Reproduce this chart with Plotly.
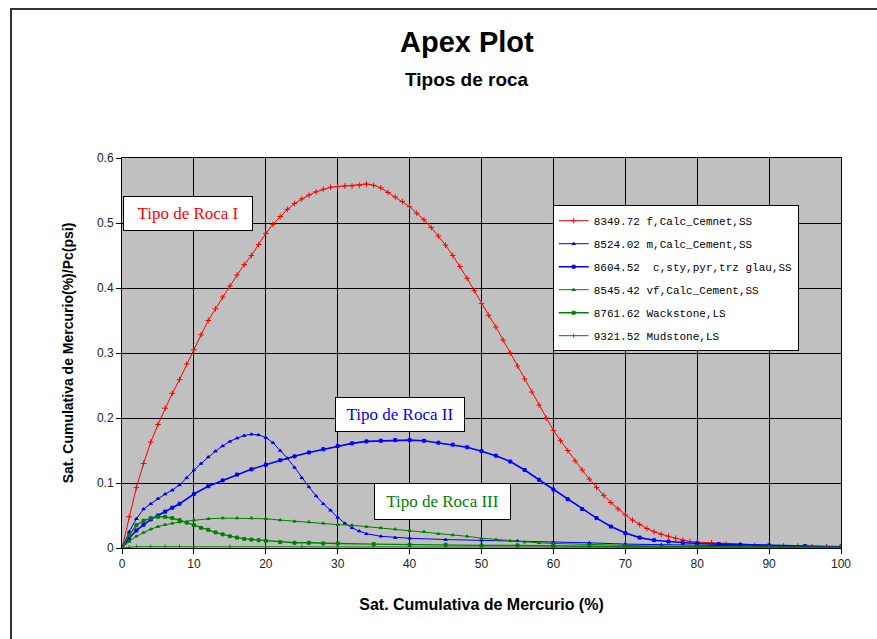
import plotly.graph_objects as go

# ---------------- data ----------------
red_x = list(range(0, 81)) + [82, 84, 86, 88, 90, 92, 94, 96, 98, 100]
red_y = [0, 0.048, 0.093, 0.13, 0.163, 0.19, 0.215, 0.238, 0.259, 0.283,
         0.305, 0.328, 0.35, 0.368, 0.386, 0.403, 0.42, 0.436, 0.45, 0.467,
         0.484, 0.498, 0.51, 0.521, 0.53, 0.537, 0.543, 0.548, 0.552, 0.555,
         0.556, 0.557, 0.557, 0.558, 0.56, 0.558, 0.554, 0.547, 0.54, 0.533,
         0.525, 0.515, 0.505, 0.493, 0.48, 0.466, 0.45, 0.433, 0.415, 0.396,
         0.376, 0.358, 0.34, 0.32, 0.3, 0.28, 0.26, 0.24, 0.22, 0.2,
         0.181, 0.165, 0.15, 0.134, 0.12, 0.106, 0.093, 0.081, 0.07, 0.06,
         0.051, 0.043, 0.036, 0.03, 0.025, 0.021, 0.018, 0.015, 0.012, 0.01,
         0.009, 0.008, 0.006, 0.005, 0.004, 0.004, 0.003, 0.003, 0.002, 0.002, 0.002]

blue1_x = [0, 1, 2, 3, 4, 5, 6, 7, 8, 9, 10, 11, 12, 13, 14, 15, 16, 17, 18, 19,
           20, 21, 22, 23, 24, 25, 26, 27, 28, 29, 30, 31, 32, 33, 34, 36, 38, 40,
           45, 50, 55, 60, 65, 70, 75, 80, 85, 90, 95, 100]
blue1_y = [0, 0.025, 0.045, 0.06, 0.068, 0.076, 0.083, 0.089, 0.097, 0.108,
           0.12, 0.13, 0.14, 0.149, 0.157, 0.164, 0.169, 0.173, 0.175, 0.174,
           0.17, 0.162, 0.15, 0.138, 0.124, 0.108, 0.094, 0.08, 0.068, 0.058,
           0.047, 0.038, 0.031, 0.026, 0.022, 0.018, 0.016, 0.015,
           0.013, 0.012, 0.011, 0.009, 0.008, 0.006, 0.005, 0.004, 0.003, 0.002, 0.001, 0.001]

blue2_x = [0, 1, 2, 3, 4, 5, 6, 7, 8, 10, 12, 14, 16, 18, 20, 22, 24, 26, 28, 30,
           32, 34, 36, 38, 40, 42, 44, 46, 48, 50, 52, 54, 56, 58, 60, 62, 64, 66,
           68, 70, 72, 74, 76, 78, 80, 83, 86, 90, 95, 100]
blue2_y = [0, 0.015, 0.027, 0.036, 0.044, 0.05, 0.056, 0.062, 0.068, 0.083,
           0.095, 0.104, 0.113, 0.121, 0.128, 0.135, 0.141, 0.147, 0.152, 0.157,
           0.161, 0.164, 0.165, 0.166, 0.166, 0.165, 0.162, 0.159, 0.155, 0.149,
           0.142, 0.133, 0.12, 0.105, 0.09, 0.075, 0.06, 0.046,
           0.033, 0.023, 0.016, 0.012, 0.01, 0.008, 0.007, 0.006, 0.005, 0.004, 0.003, 0.002]

green1_x = [0, 1, 2, 3, 4, 5, 6, 7, 8, 10, 12, 14, 16, 18, 20, 22, 24, 26, 28, 30,
            32, 34, 36, 38, 40, 42, 44, 46, 48, 50, 52, 54, 56, 58, 60, 65, 70, 75,
            80, 90, 100]
green1_y = [0, 0.01, 0.018, 0.024, 0.029, 0.033, 0.036, 0.038, 0.04, 0.043,
            0.045, 0.046, 0.046, 0.046, 0.045, 0.043, 0.041, 0.04, 0.038, 0.036,
            0.035, 0.033, 0.031, 0.029, 0.027, 0.025, 0.022, 0.02, 0.018, 0.015,
            0.013, 0.011, 0.009, 0.008, 0.007, 0.005, 0.004, 0.003,
            0.002, 0.001, 0.001]

green2_x = [0, 1, 2, 3, 4, 5, 6, 7, 8, 9, 10, 11, 12, 13, 14, 15, 16, 17, 18, 19,
            20, 22, 24, 26, 28, 30, 35, 40, 45, 50, 55, 60, 65, 70, 80, 90, 100]
green2_y = [0, 0.02, 0.035, 0.042, 0.046, 0.048, 0.048, 0.046, 0.043, 0.039,
            0.035, 0.031, 0.028, 0.024, 0.021, 0.018, 0.016, 0.014, 0.013, 0.012,
            0.011, 0.009, 0.008, 0.008, 0.007, 0.007, 0.006, 0.005, 0.005, 0.004,
            0.004, 0.003, 0.003, 0.002, 0.002, 0.001, 0.001]

green3_x = [0, 1, 2, 4, 6, 8, 10, 15, 20, 25, 30, 35, 40, 45, 50, 55, 60, 65, 70,
            75, 80, 85, 90, 95, 100]
green3_y = [0, 0.001, 0.002, 0.002, 0.002, 0.002, 0.002, 0.002, 0.002, 0.002,
            0.002, 0.002, 0.002, 0.002, 0.002, 0.002, 0.001, 0.001, 0.001,
            0.001, 0.001, 0.001, 0.001, 0.001, 0.001]

series_names = [
    "8349.72 f,Calc_Cemnet,SS",
    "8524.02 m,Calc_Cement,SS",
    "8604.52  c,sty,pyr,trz glau,SS",
    "8545.42 vf,Calc_Cement,SS",
    "8761.62 Wackstone,LS",
    "9321.52 Mudstone,LS",
]

x_ticks = [0, 10, 20, 30, 40, 50, 60, 70, 80, 90, 100]
y_ticks = [0, 0.1, 0.2, 0.3, 0.4, 0.5, 0.6]
y_tick_text = ["0", "0.1", "0.2", "0.3", "0.4", "0.5", "0.6"]

rock_labels = ["Tipo de Roca I", "Tipo de Roca II", "Tipo de Roca III"]
rock_x = [9.2, 38.7, 44.6]
rock_y = [0.515, 0.205, 0.0715]

# ---------------- figure ----------------
RED, BLUE, GREEN = "#FF0000", "#0000FF", "#008000"
styles = [
    (red_x, red_y, RED, 1, "cross-thin-open", 4),
    (blue1_x, blue1_y, BLUE, 1, "triangle-up", 3),
    (blue2_x, blue2_y, BLUE, 1.6, "square", 3),
    (green1_x, green1_y, GREEN, 1, "triangle-up", 3),
    (green2_x, green2_y, GREEN, 1.4, "square", 3),
    (green3_x, green3_y, GREEN, 1, "line-ns-open", 3),
]

fig = go.Figure()
for i, (xs, ys, col, lw, sym, ms) in enumerate(styles):
    fig.add_trace(go.Scatter(
        x=xs, y=ys, mode="lines+markers", name=series_names[i],
        legendgroup=f"g{i}",
        line=dict(color=col, width=lw),
        marker=dict(color=col, symbol=sym, size=ms, line=dict(color=col, width=1)),
    ))

axis_font = dict(family="Liberation Sans, Arial", size=12, color="#222222")
fig.update_layout(
    width=877, height=639,
    margin=dict(l=122, r=36, t=158, b=91),
    paper_bgcolor="white",
    plot_bgcolor="#C0C0C0",
    showlegend=True,
    legend=dict(
        x=0.599, y=0.879, xanchor="left", yanchor="top",
        bgcolor="white", bordercolor="black", borderwidth=1,
        font=dict(family="Liberation Mono, Courier New", size=11, color="black"),
        tracegroupgap=4, itemwidth=30,
    ),
    xaxis=dict(
        range=[0, 100], tickvals=x_ticks, ticktext=[str(v) for v in x_ticks],
        showgrid=True, gridcolor="black", gridwidth=1,
        showline=True, linecolor="black", linewidth=1, mirror=True,
        ticks="outside", ticklen=5, tickcolor="black",
        zeroline=False, tickfont=axis_font,
        title=dict(text="<b>Sat. Cumulativa de Mercurio (%)</b>",
                   font=dict(family="Liberation Sans, Arial", size=16, color="black"),
                   standoff=28),
    ),
    yaxis=dict(
        range=[0, 0.6], tickvals=y_ticks, ticktext=y_tick_text,
        showgrid=True, gridcolor="black", gridwidth=1,
        showline=True, linecolor="black", linewidth=1, mirror=True,
        ticks="outside", ticklen=5, tickcolor="black",
        zeroline=False, tickfont=axis_font,
        title=dict(text="<b>Sat. Cumulativa de Mercurio(%)/Pc(psi)</b>",
                   font=dict(family="Liberation Sans, Arial", size=14, color="black"),
                   standoff=20),
    ),
)

# Chart titles
fig.add_annotation(text="<b>Apex Plot</b>", xref="paper", yref="paper",
                   x=(467 - 122) / 719, y=(548 - 42) / 390, showarrow=False,
                   xanchor="center", yanchor="middle",
                   font=dict(family="Liberation Sans, Arial", size=29, color="black"))
fig.add_annotation(text="<b>Tipos de roca</b>", xref="paper", yref="paper",
                   x=(467 - 122) / 719, y=(548 - 79) / 390, showarrow=False,
                   xanchor="center", yanchor="middle",
                   font=dict(family="Liberation Sans, Arial", size=19, color="black"))

# Rock-type labels
rock_cols = [RED, BLUE, GREEN]
rock_w = [126, 126, 133]
rock_h = [31, 31, 33]
for lbl, xv, yv, c, w, h in zip(rock_labels, rock_x, rock_y, rock_cols, rock_w, rock_h):
    fig.add_annotation(text=lbl, x=xv, y=yv, xref="x", yref="y", showarrow=False,
                       xanchor="center", yanchor="middle",
                       width=w, height=h, bgcolor="white",
                       bordercolor="black", borderwidth=1,
                       font=dict(family="Liberation Serif, Times New Roman", size=17, color=c))

# Outer chart frame
fig.add_shape(type="rect", xref="paper", yref="paper",
              x0=(11 - 122) / 719, x1=1.2, y0=-0.5, y1=(548 - 9) / 390,
              line=dict(color="#333333", width=2), fillcolor="rgba(0,0,0,0)",
              layer="below")

fig.write_html("out.html")
